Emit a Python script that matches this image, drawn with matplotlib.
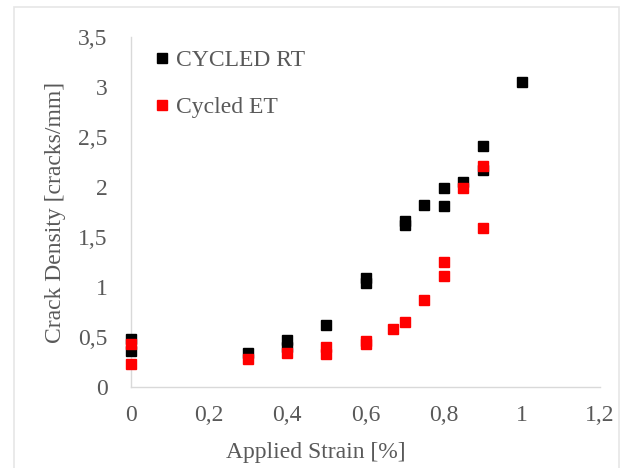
import matplotlib
matplotlib.use("Agg")
import matplotlib.pyplot as plt
from matplotlib.patches import Rectangle
from matplotlib.ticker import FuncFormatter

# data
rt_strain = [0, 0, 0.3, 0.4, 0.4, 0.5, 0.6, 0.6, 0.7, 0.7, 0.75, 0.8, 0.8, 0.85, 0.9, 0.9, 1.0]
rt_density = [0.48, 0.36, 0.34, 0.47, 0.40, 0.62, 1.09, 1.04, 1.66, 1.62, 1.82, 1.99, 1.81, 2.05, 2.41, 2.17, 3.05]

et_strain = [0, 0, 0.3, 0.4, 0.5, 0.5, 0.6, 0.6, 0.67, 0.7, 0.75, 0.8, 0.8, 0.85, 0.9, 0.9]
et_density = [0.43, 0.23, 0.28, 0.34, 0.40, 0.33, 0.46, 0.43, 0.58, 0.65, 0.87, 1.25, 1.11, 1.99, 2.21, 1.59]

x_ticks = [0, 0.2, 0.4, 0.6, 0.8, 1.0, 1.2]
y_ticks = [0, 0.5, 1, 1.5, 2, 2.5, 3, 3.5]

GREY_TXT = "#595959"
GREY_LINE = "#d9d9d9"

plt.rcParams["font.family"] = ["Liberation Serif", "DejaVu Serif"]

fig = plt.figure(figsize=(6.24, 4.68), dpi=100)
fig.patches.append(Rectangle((14 / 624, -0.05), (619 - 14) / 624, 1.05 - 7 / 468,
                             transform=fig.transFigure, fill=False,
                             edgecolor="#e6e6e6", linewidth=1.2))

ax = fig.add_axes([131 / 624, 81 / 468, 469 / 624, 350 / 468])

ax.plot(rt_strain, rt_density, "s", color="black", markersize=7.5,
        linestyle="none", label="CYCLED RT", clip_on=False, zorder=3)
ax.plot(et_strain, et_density, "s", color="#ff0000", markersize=7.5,
        linestyle="none", label="Cycled ET", clip_on=False, zorder=4)

ax.set_xlim(0, 1.2)
ax.set_ylim(0, 3.5)
ax.set_xticks(x_ticks)
ax.set_yticks(y_ticks)

fmt = FuncFormatter(lambda v, pos: f"{v:g}".replace(".", ","))
ax.xaxis.set_major_formatter(fmt)
ax.yaxis.set_major_formatter(fmt)

ax.tick_params(length=0, labelsize=17, labelcolor=GREY_TXT)
ax.tick_params(axis="x", pad=13)
ax.tick_params(axis="y", pad=17)

for s in ["top", "right"]:
    ax.spines[s].set_visible(False)
for s in ["left", "bottom"]:
    ax.spines[s].set_color(GREY_LINE)
    ax.spines[s].set_linewidth(1.0)

ax.set_xlabel("Applied Strain [%]", fontsize=17, color=GREY_TXT)
ax.set_ylabel("Crack Density [cracks/mm]", fontsize=17, color=GREY_TXT)
ax.xaxis.set_label_coords((316 - 131) / 469, -(442 - 387) / 350)
ax.yaxis.set_label_coords(-(131 - 66) / 469, 0.5)

leg = ax.legend(loc="upper left", bbox_to_anchor=(0.033, 0.99), frameon=False,
                fontsize=17, handlelength=0.5, handletextpad=0.35,
                labelspacing=1.05, borderaxespad=0)
for t in leg.get_texts():
    t.set_color(GREY_TXT)

fig.savefig("out.png", dpi=100)
